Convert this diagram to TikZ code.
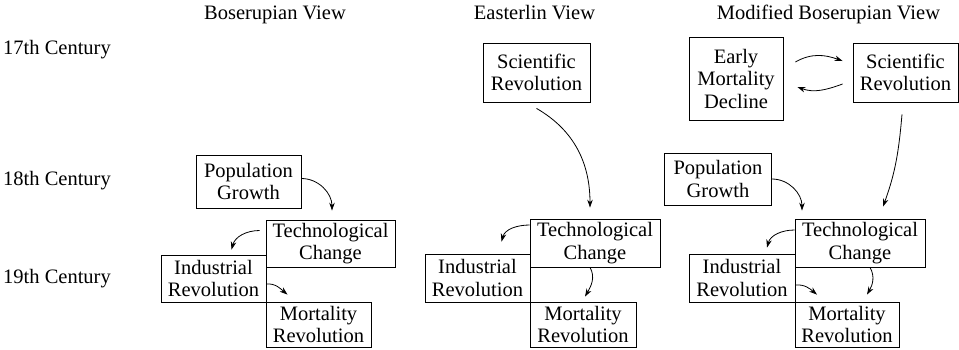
\documentclass[tikz,border=0pt]{standalone}
\usepackage{fontspec}
\setmainfont{LiberationSerif}[Extension=.ttf,UprightFont=*-Regular,BoldFont=*-Bold]
\usetikzlibrary{arrows.meta,calc}
\begin{document}
\begin{tikzpicture}[x=1pt,y=-1pt,
  every node/.style={font=\rmfamily\fontsize{20.5}{22.5}\selectfont},
  box/.style={draw,line width=0.8pt,inner sep=0pt,align=center,minimum width=#1},
  lbl/.style={anchor=base west,inner sep=0pt},
  head/.style={anchor=base,inner sep=0pt},
  arr/.style={line width=0.8pt,-{Stealth[length=8pt,width=5.5pt]}}]
\useasboundingbox (0,0) rectangle (959,349);
% headings
\node[head] (hB) at (275,19) {Boserupian View};
\node[head] (hE) at (534.5,19) {Easterlin View};
\node[head] (hM) at (828.5,19) {Modified Boserupian View};
\node[lbl] (r17) at (3,54) {17th Century};
\node[lbl] (r18) at (3,185) {18th Century};
\node[lbl] (r19) at (3,283) {19th Century};
% Boserupian
\node[box=105pt,minimum height=53pt] (popB) at (248.5,181.5) {Population\\Growth};
\node[box=129pt,minimum height=47pt] (techB) at (330.5,243.5) {Technological\\Change};
\node[box=105pt,minimum height=47pt] (indB) at (213.5,278.5) {Industrial\\Revolution};
\node[box=105pt,minimum height=45pt] (mortB) at (318.5,324.5) {Mortality\\Revolution};
\draw[arr] ([yshift=3pt]popB.east) to[out=0,in=90] ([xshift=1.5pt,yshift=9pt]techB.north);
\draw[arr] ([xshift=-6pt,yshift=13pt]techB.west) to[out=180,in=75] ([xshift=18pt,yshift=5pt]indB.north);
\draw[arr] ([yshift=-5.5pt]indB.east) to[out=5,in=140] ([xshift=-31pt,yshift=7pt]mortB.north);
% Easterlin
\node[box=107pt,minimum height=59pt] (sciE) at (536.5,72.5) {Scientific\\Revolution};
\node[box=130pt,minimum height=48pt] (techE) at (595,243) {Technological\\Change};
\node[box=105pt,minimum height=48pt] (indE) at (477.5,278) {Industrial\\Revolution};
\node[box=106pt,minimum height=45pt] (mortE) at (583,324.5) {Mortality\\Revolution};
\draw[arr] ([yshift=-6pt]sciE.south) to[out=-30,in=90] ([xshift=-5pt,yshift=11pt]techE.north);
\draw[arr] ([yshift=18pt]techE.west) to[out=180,in=75] ([xshift=24pt,yshift=12pt]indE.north);
\draw[arr] ([xshift=-5pt]techE.south) to[out=-60,in=60] ([xshift=2pt,yshift=5pt]mortE.north);
% Modified Boserupian
\node[box=94pt,minimum height=83pt] (earlyM) at (736,78.5) {Early\\Mortality\\Decline};
\node[box=105pt,minimum height=59pt] (sciM) at (905.5,72.5) {Scientific\\Revolution};
\node[box=107pt,minimum height=52pt] (popM) at (718,179) {Population\\Growth};
\node[box=130pt,minimum height=48pt] (techM) at (860,243) {Technological\\Change};
\node[box=106pt,minimum height=48pt] (indM) at (742,278) {Industrial\\Revolution};
\node[box=104pt,minimum height=45pt] (mortM) at (847,324.5) {Mortality\\Revolution};
\draw[arr] ([xshift=12pt,yshift=16.5pt]earlyM.east) to[out=30,in=160] ([xshift=-10pt,yshift=11.5pt]sciM.west);
\draw[arr] ([xshift=-10pt,yshift=-11.5pt]sciM.west) to[out=-160,in=-20] ([xshift=14pt,yshift=-8.5pt]earlyM.east);
\draw[arr] ([xshift=-3.5pt,yshift=-12pt]sciM.south) to[out=-95,in=70] ([xshift=23pt,yshift=12pt]techM.north);
\draw[arr] (popM.east) to[out=0,in=90] ([xshift=-58pt,yshift=8pt]techM.north);
\draw[arr] ([yshift=13pt]techM.west) to[out=180,in=75] ([xshift=25pt,yshift=6pt]indM.north);
\draw[arr] ([yshift=-7pt]indM.east) to[out=5,in=140] ([xshift=-30pt,yshift=7pt]mortM.north);
\draw[arr] ([xshift=10pt]techM.south) to[out=-60,in=60] ([xshift=20pt,yshift=7pt]mortM.north);
\end{tikzpicture}
\end{document}
